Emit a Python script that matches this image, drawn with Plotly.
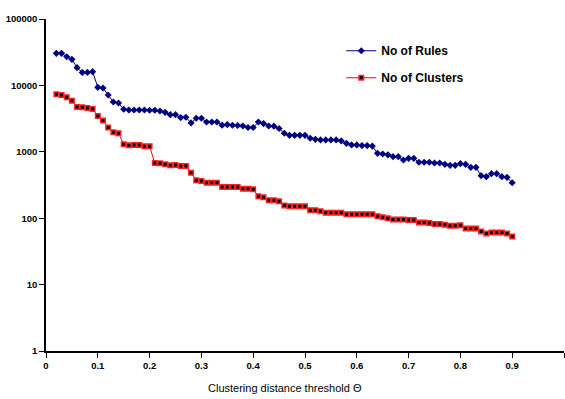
import plotly.graph_objects as go

# Clustering distance threshold values (0.02 .. 0.90 in steps of 0.01)
theta = [round(0.02 + 0.01 * i, 2) for i in range(89)]

no_of_rules = [
    30400, 30400, 27000, 24700, 18500, 15700, 15700, 16100, 9360, 9140,
    7170, 5620, 5430, 4370, 4260, 4260, 4260, 4260, 4220, 4220,
    4120, 3930, 3620, 3620, 3280, 3310, 2720, 3200, 3200, 2810,
    2810, 2810, 2520, 2570, 2510, 2490, 2450, 2320, 2320, 2810,
    2660, 2450, 2430, 2240, 1900, 1770, 1770, 1770, 1770, 1600,
    1540, 1510, 1510, 1510, 1510, 1460, 1340, 1270, 1270, 1240,
    1240, 1220, 949, 927, 901, 844, 844, 752, 798, 798,
    695, 695, 695, 678, 678, 648, 626, 626, 662, 648,
    584, 584, 437, 422, 468, 468, 422, 413, 342,
]

no_of_clusters = [
    7350, 7170, 6620, 5890, 4730, 4680, 4570, 4410, 3460, 2960,
    2320, 1970, 1900, 1300, 1250, 1270, 1270, 1210, 1210, 678,
    671, 648, 626, 633, 611, 611, 484, 372, 363, 342,
    342, 342, 295, 295, 295, 295, 278, 278, 272, 214,
    206, 186, 186, 180, 156, 151, 151, 151, 151, 132,
    132, 127, 121, 121, 121, 121, 115, 115, 115, 115,
    115, 115, 107, 103, 100, 96, 96, 96, 94, 94,
    86, 86, 85, 82, 82, 80, 77, 77, 78, 70,
    70, 70, 63, 59, 61, 61, 61, 59, 53,
]

x_ticks = [0, 0.1, 0.2, 0.3, 0.4, 0.5, 0.6, 0.7, 0.8, 0.9, 1]
x_tick_text = ["0", "0.1", "0.2", "0.3", "0.4", "0.5", "0.6", "0.7", "0.8", "0.9", "1"]
y_ticks = [1, 10, 100, 1000, 10000, 100000]
y_tick_text = ["1", "10", "100", "1000", "10000", "100000"]

fig = go.Figure()
fig.add_trace(go.Scatter(
    x=theta, y=no_of_rules, name="No of Rules", mode="lines+markers",
    legendgroup="rules",
    line=dict(color="#000080", width=1),
    marker=dict(symbol="diamond", size=5.5, color="#000080"),
))
fig.add_trace(go.Scatter(
    x=theta, y=no_of_clusters, name="No of Clusters", mode="lines+markers",
    legendgroup="clusters",
    line=dict(color="#FF0000", width=1),
    marker=dict(symbol="square", size=4.5, color="#000000",
                line=dict(color="#FF2020", width=1.5)),
))

tick_font = dict(family="Liberation Sans, Arial, sans-serif", size=9.5, color="#000000")

fig.update_layout(
    width=565, height=399,
    margin=dict(l=46, r=1, t=19, b=48),
    paper_bgcolor="white", plot_bgcolor="white",
    showlegend=True,
    legend=dict(
        x=0.57, y=0.948, xanchor="left", yanchor="top",
        font=dict(family="Liberation Sans, Arial, sans-serif", size=12, color="#000000",
                  weight="bold"),
        traceorder="grouped", tracegroupgap=8, itemwidth=30,
        bgcolor="rgba(0,0,0,0)",
    ),
    xaxis=dict(
        range=[0, 1], tickvals=x_ticks, ticktext=x_tick_text,
        showgrid=False, zeroline=False, showline=True, linecolor="#000000", linewidth=1.5,
        ticks="outside", ticklen=5, tickcolor="#000000", tickwidth=1,
        tickfont=dict(tick_font, weight="bold"),
    ),
    yaxis=dict(
        type="log", range=[0, 5], tickvals=y_ticks, ticktext=y_tick_text,
        showgrid=False, zeroline=False, showline=True, linecolor="#000000", linewidth=1.5,
        ticks="outside", ticklen=5, tickcolor="#000000", tickwidth=1,
        tickfont=dict(tick_font, weight="bold"),
    ),
    annotations=[dict(
        text="Clustering distance threshold \u0398",
        xref="paper", yref="paper", x=0.461, y=-0.111,
        xanchor="center", yanchor="middle", showarrow=False,
        font=dict(family="Liberation Sans, Arial, sans-serif", size=11, color="#000000"),
    )],
)

fig.write_html("out.html")
